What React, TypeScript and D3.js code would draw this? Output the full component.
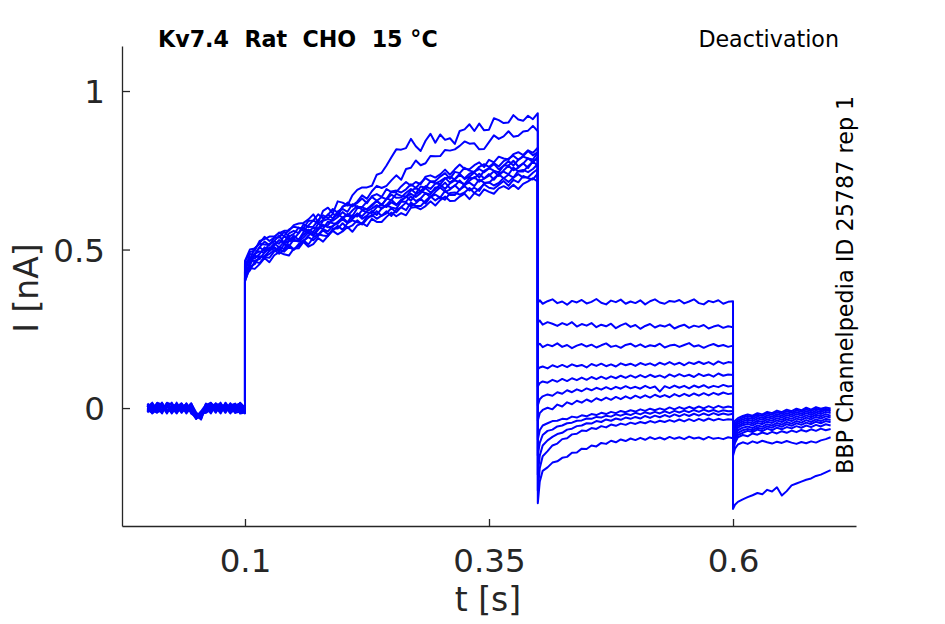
import React, { useRef, useEffect } from "react"
import * as d3 from "d3"

// Kv7.4 deactivation protocol, 12 sweeps, current in nA

const xTicks = [0.1, 0.35, 0.6]
const xTickLabels = ["0.1", "0.35", "0.6"]
const yTicks = [0, 0.5, 1]
const yTickLabels = ["0", "0.5", "1"]

// sample times of each protocol segment [s]
const baseT = d3.range(21).map(i => i * 0.005)
const actT = d3.range(61).map(i => 0.1 + i * 0.005)
const deactT = [0.4, 0.402, ...d3.range(1, 41).map(i => 0.4 + i * 0.005)]
const tailT = [0.6, 0.602, ...d3.range(1, 21).map(i => 0.6 + i * 0.005)]

// holding segment, 0 - 0.1 s
const baseline: number[][] = [
  [0.006, -0.013, 0.015, -0.007, 0.011, -0.015, 0.008, -0.003, 0.014, -0.018, -0.028, -0.010, 0.011, -0.014, 0.004, -0.017, 0.010, -0.006, 0.013, -0.014, -0.008],
  [-0.008, 0.014, -0.004, 0.017, -0.011, 0.007, -0.014, 0.013, -0.006, 0.008, -0.034, -0.021, -0.003, 0.015, -0.010, 0.007, -0.015, 0.014, -0.004, 0.008, 0.000],
  [0.011, -0.006, -0.015, 0.008, 0.003, 0.017, -0.010, 0.006, -0.017, 0.004, -0.022, -0.036, 0.007, -0.006, 0.014, -0.011, 0.003, -0.017, 0.008, 0.015, -0.003],
  [-0.014, 0.004, 0.010, -0.013, 0.015, -0.006, 0.013, -0.015, 0.007, -0.008, -0.031, -0.017, -0.013, 0.008, -0.015, 0.013, -0.007, 0.006, -0.013, 0.003, -0.011],
  [0.003, 0.017, -0.010, 0.006, -0.017, 0.010, 0.001, 0.015, -0.011, 0.014, -0.014, -0.029, 0.014, 0.001, 0.010, -0.006, 0.015, -0.011, 0.006, -0.008, 0.006],
  [-0.006, -0.015, 0.007, 0.014, -0.004, -0.011, 0.017, -0.008, 0.004, -0.013, -0.034, -0.013, -0.007, 0.011, -0.003, 0.017, -0.013, 0.008, 0.014, -0.017, -0.014],
  [0.014, 0.001, -0.013, -0.003, 0.008, 0.014, -0.007, 0.010, -0.014, 0.011, -0.018, -0.025, 0.004, -0.017, 0.013, 0.000, 0.006, -0.014, -0.006, 0.011, 0.004],
  [-0.011, 0.010, 0.003, -0.017, 0.014, 0.000, -0.015, 0.004, 0.011, -0.006, -0.028, -0.032, 0.013, 0.006, -0.013, 0.010, -0.004, 0.015, -0.010, -0.003, -0.017],
  [0.001, -0.007, 0.017, 0.011, -0.014, 0.006, 0.011, -0.013, 0.001, 0.015, -0.024, -0.015, -0.010, 0.014, 0.007, -0.014, 0.017, -0.003, 0.001, 0.014, -0.006],
  [0.008, -0.017, -0.003, 0.004, 0.006, -0.017, 0.004, 0.014, -0.008, -0.003, -0.033, -0.022, 0.001, -0.008, 0.015, 0.004, -0.010, 0.011, -0.015, -0.011, 0.008],
  [-0.003, 0.013, -0.011, -0.010, 0.017, 0.011, -0.004, -0.010, 0.015, -0.015, -0.017, -0.035, 0.008, 0.017, -0.006, -0.008, 0.013, -0.008, 0.010, 0.006, -0.015],
  [0.013, -0.003, 0.008, 0.015, -0.008, 0.003, -0.017, 0.008, -0.003, 0.006, -0.029, -0.018, -0.015, -0.004, 0.008, 0.014, -0.001, 0.004, -0.015, 0.017, 0.001],
]

// activating step, 0.1 - 0.4 s
const activation: number[][] = [
  [0.461, 0.492, 0.497, 0.527, 0.533, 0.541, 0.541, 0.552, 0.559, 0.559,
    0.577, 0.582, 0.584, 0.595, 0.611, 0.586, 0.622, 0.632, 0.614, 0.652,
    0.648, 0.639, 0.671, 0.688, 0.696, 0.696, 0.701, 0.736, 0.742, 0.765,
    0.791, 0.816, 0.815, 0.820, 0.849, 0.826, 0.811, 0.843, 0.865, 0.837,
    0.863, 0.846, 0.851, 0.833, 0.874, 0.879, 0.895, 0.874, 0.897, 0.876,
    0.878, 0.914, 0.908, 0.899, 0.901, 0.924, 0.910, 0.906, 0.922, 0.911, 0.930],
  [0.436, 0.486, 0.483, 0.508, 0.525, 0.514, 0.527, 0.544, 0.521, 0.551,
    0.559, 0.552, 0.580, 0.571, 0.572, 0.593, 0.608, 0.599, 0.612, 0.606,
    0.636, 0.640, 0.639, 0.651, 0.671, 0.660, 0.684, 0.701, 0.694, 0.701,
    0.718, 0.734, 0.720, 0.754, 0.758, 0.781, 0.766, 0.772, 0.795, 0.794,
    0.795, 0.814, 0.812, 0.816, 0.827, 0.841, 0.834, 0.835, 0.816, 0.817,
    0.839, 0.860, 0.849, 0.857, 0.873, 0.856, 0.859, 0.872, 0.875, 0.890, 0.873],
  [0.464, 0.500, 0.503, 0.520, 0.540, 0.527, 0.538, 0.554, 0.542, 0.563,
    0.572, 0.569, 0.568, 0.590, 0.592, 0.611, 0.598, 0.609, 0.628, 0.616,
    0.634, 0.648, 0.636, 0.647, 0.661, 0.646, 0.668, 0.675, 0.666, 0.691,
    0.681, 0.681, 0.699, 0.713, 0.701, 0.713, 0.706, 0.730, 0.734, 0.727,
    0.737, 0.752, 0.736, 0.753, 0.768, 0.754, 0.753, 0.766, 0.775, 0.760,
    0.783, 0.775, 0.793, 0.787, 0.784, 0.801, 0.807, 0.798, 0.813, 0.805, 0.821],
  [0.457, 0.469, 0.504, 0.518, 0.516, 0.514, 0.537, 0.538, 0.556, 0.541,
    0.549, 0.569, 0.559, 0.576, 0.592, 0.582, 0.594, 0.611, 0.598, 0.620,
    0.628, 0.619, 0.643, 0.634, 0.634, 0.651, 0.666, 0.654, 0.665, 0.659,
    0.683, 0.686, 0.680, 0.690, 0.706, 0.694, 0.711, 0.725, 0.715, 0.716,
    0.730, 0.741, 0.723, 0.745, 0.741, 0.758, 0.749, 0.745, 0.761, 0.769,
    0.761, 0.773, 0.762, 0.779, 0.787, 0.796, 0.783, 0.795, 0.811, 0.797, 0.807],
  [0.431, 0.474, 0.472, 0.486, 0.507, 0.496, 0.514, 0.530, 0.518, 0.529,
    0.543, 0.531, 0.555, 0.563, 0.555, 0.582, 0.574, 0.577, 0.596, 0.612,
    0.600, 0.612, 0.605, 0.630, 0.633, 0.627, 0.637, 0.654, 0.641, 0.659,
    0.673, 0.663, 0.664, 0.679, 0.691, 0.677, 0.699, 0.695, 0.715, 0.709,
    0.706, 0.724, 0.729, 0.721, 0.736, 0.725, 0.739, 0.746, 0.754, 0.744,
    0.756, 0.770, 0.753, 0.764, 0.779, 0.765, 0.783, 0.793, 0.787, 0.784, 0.806],
  [0.451, 0.464, 0.487, 0.507, 0.496, 0.518, 0.526, 0.518, 0.542, 0.533,
    0.533, 0.552, 0.569, 0.557, 0.569, 0.565, 0.591, 0.596, 0.591, 0.602,
    0.618, 0.606, 0.623, 0.637, 0.626, 0.627, 0.641, 0.654, 0.639, 0.661,
    0.656, 0.676, 0.669, 0.667, 0.686, 0.694, 0.685, 0.700, 0.691, 0.708,
    0.716, 0.726, 0.711, 0.723, 0.739, 0.722, 0.730, 0.743, 0.727, 0.748,
    0.757, 0.749, 0.743, 0.765, 0.765, 0.780, 0.762, 0.771, 0.788, 0.775, 0.792],
  [0.412, 0.461, 0.465, 0.470, 0.491, 0.507, 0.496, 0.508, 0.502, 0.526,
    0.529, 0.525, 0.538, 0.554, 0.543, 0.562, 0.578, 0.570, 0.573, 0.588,
    0.601, 0.586, 0.608, 0.604, 0.624, 0.617, 0.615, 0.634, 0.642, 0.634,
    0.649, 0.640, 0.657, 0.665, 0.676, 0.666, 0.678, 0.694, 0.680, 0.690,
    0.705, 0.691, 0.709, 0.718, 0.713, 0.706, 0.726, 0.725, 0.739, 0.724,
    0.733, 0.747, 0.732, 0.750, 0.764, 0.750, 0.758, 0.772, 0.757, 0.779, 0.786],
  [0.431, 0.449, 0.486, 0.494, 0.491, 0.502, 0.519, 0.507, 0.524, 0.538,
    0.527, 0.530, 0.547, 0.559, 0.545, 0.569, 0.566, 0.588, 0.583, 0.581,
    0.600, 0.608, 0.599, 0.614, 0.605, 0.621, 0.629, 0.640, 0.629, 0.641,
    0.657, 0.642, 0.652, 0.667, 0.654, 0.675, 0.684, 0.678, 0.674, 0.696,
    0.696, 0.711, 0.693, 0.701, 0.718, 0.702, 0.717, 0.729, 0.714, 0.724,
    0.738, 0.720, 0.739, 0.746, 0.737, 0.759, 0.746, 0.746, 0.763, 0.777, 0.765],
  [0.412, 0.454, 0.481, 0.475, 0.480, 0.495, 0.508, 0.494, 0.516, 0.511,
    0.531, 0.526, 0.526, 0.545, 0.554, 0.547, 0.564, 0.557, 0.575, 0.584,
    0.595, 0.584, 0.596, 0.612, 0.597, 0.607, 0.622, 0.609, 0.630, 0.639,
    0.633, 0.629, 0.651, 0.651, 0.668, 0.653, 0.661, 0.678, 0.665, 0.682,
    0.696, 0.682, 0.689, 0.703, 0.688, 0.706, 0.711, 0.700, 0.721, 0.711,
    0.711, 0.725, 0.737, 0.725, 0.736, 0.727, 0.748, 0.751, 0.744, 0.754, 0.770],
  [0.399, 0.446, 0.454, 0.479, 0.476, 0.474, 0.494, 0.502, 0.493, 0.508,
    0.499, 0.517, 0.528, 0.539, 0.529, 0.543, 0.561, 0.548, 0.560, 0.575,
    0.562, 0.583, 0.592, 0.586, 0.582, 0.604, 0.604, 0.621, 0.606, 0.614,
    0.631, 0.617, 0.634, 0.648, 0.636, 0.646, 0.660, 0.645, 0.666, 0.673,
    0.664, 0.685, 0.672, 0.672, 0.689, 0.700, 0.686, 0.695, 0.685, 0.709,
    0.712, 0.702, 0.710, 0.726, 0.713, 0.727, 0.738, 0.727, 0.728, 0.742, 0.754],
  [0.418, 0.434, 0.462, 0.457, 0.477, 0.486, 0.498, 0.487, 0.499, 0.515,
    0.500, 0.511, 0.529, 0.516, 0.538, 0.548, 0.544, 0.542, 0.566, 0.566,
    0.583, 0.568, 0.576, 0.592, 0.579, 0.596, 0.610, 0.597, 0.607, 0.621,
    0.606, 0.626, 0.633, 0.624, 0.648, 0.637, 0.637, 0.654, 0.668, 0.655,
    0.666, 0.657, 0.678, 0.680, 0.673, 0.680, 0.694, 0.678, 0.692, 0.706,
    0.695, 0.692, 0.704, 0.716, 0.701, 0.720, 0.712, 0.732, 0.725, 0.721, 0.740],
  [0.401, 0.442, 0.439, 0.454, 0.473, 0.460, 0.482, 0.492, 0.485, 0.481,
    0.503, 0.504, 0.524, 0.509, 0.517, 0.536, 0.525, 0.543, 0.559, 0.548,
    0.557, 0.571, 0.556, 0.576, 0.583, 0.574, 0.597, 0.587, 0.587, 0.603,
    0.617, 0.605, 0.615, 0.608, 0.632, 0.634, 0.627, 0.637, 0.652, 0.639,
    0.656, 0.667, 0.653, 0.654, 0.667, 0.676, 0.659, 0.678, 0.670, 0.690,
    0.682, 0.676, 0.693, 0.700, 0.691, 0.704, 0.691, 0.707, 0.715, 0.725, 0.714],
]

// deactivating step, 0.4 - 0.6 s
const deactivation: number[][] = [
  [0.332, 0.340, 0.329, 0.337, 0.343, 0.331, 0.336, 0.326, 0.338, 0.333,
    0.341, 0.330, 0.335, 0.344, 0.332, 0.327, 0.339, 0.334, 0.342, 0.329,
    0.336, 0.331, 0.340, 0.327, 0.337, 0.343, 0.333, 0.329, 0.338, 0.335,
    0.341, 0.330, 0.336, 0.343, 0.331, 0.327, 0.338, 0.334, 0.340, 0.329, 0.335, 0.337],
  [0.270, 0.276, 0.263, 0.271, 0.266, 0.259, 0.268, 0.262, 0.271, 0.257,
    0.265, 0.260, 0.268, 0.255, 0.263, 0.258, 0.266, 0.252, 0.261, 0.267,
    0.256, 0.262, 0.250, 0.259, 0.265, 0.254, 0.261, 0.257, 0.264, 0.251,
    0.258, 0.263, 0.253, 0.260, 0.256, 0.262, 0.251, 0.257, 0.261, 0.253, 0.258, 0.255],
  [0.198, 0.203, 0.192, 0.200, 0.195, 0.204, 0.193, 0.199, 0.189, 0.197,
    0.202, 0.194, 0.200, 0.191, 0.198, 0.204, 0.193, 0.197, 0.190, 0.199,
    0.203, 0.194, 0.201, 0.192, 0.198, 0.195, 0.203, 0.191, 0.197, 0.200,
    0.193, 0.199, 0.205, 0.194, 0.198, 0.190, 0.197, 0.202, 0.195, 0.199, 0.193, 0.197],
  [0.122, 0.128, 0.131, 0.125, 0.135, 0.129, 0.136, 0.129, 0.138, 0.132,
    0.136, 0.128, 0.139, 0.133, 0.140, 0.132, 0.138, 0.131, 0.141, 0.135,
    0.140, 0.133, 0.142, 0.136, 0.141, 0.134, 0.143, 0.137, 0.145, 0.137,
    0.143, 0.135, 0.144, 0.139, 0.146, 0.139, 0.145, 0.137, 0.147, 0.140, 0.145, 0.143],
  [0.068, 0.079, 0.084, 0.080, 0.089, 0.083, 0.092, 0.085, 0.094, 0.088,
    0.096, 0.089, 0.098, 0.091, 0.099, 0.092, 0.100, 0.094, 0.102, 0.095,
    0.103, 0.096, 0.104, 0.097, 0.105, 0.098, 0.103, 0.096, 0.106, 0.099,
    0.107, 0.100, 0.105, 0.098, 0.108, 0.101, 0.106, 0.099, 0.109, 0.102, 0.106, 0.104],
  [0.008, 0.028, 0.037, 0.043, 0.039, 0.050, 0.045, 0.056, 0.050, 0.059,
    0.053, 0.062, 0.056, 0.064, 0.058, 0.066, 0.059, 0.067, 0.061, 0.069,
    0.062, 0.067, 0.061, 0.070, 0.063, 0.068, 0.052, 0.069, 0.063, 0.071,
    0.064, 0.070, 0.062, 0.071, 0.065, 0.072, 0.064, 0.070, 0.066, 0.073, 0.068, 0.070],
  [-0.040, -0.016, -0.006, 0.001, -0.004, 0.011, 0.005, 0.018, 0.012, 0.023,
    0.017, 0.027, 0.020, 0.031, 0.024, 0.033, 0.026, 0.035, 0.028, 0.037,
    0.030, 0.039, 0.032, 0.040, 0.033, 0.042, 0.035, 0.041, 0.034, 0.044,
    0.037, 0.045, 0.038, 0.046, 0.039, 0.047, 0.040, 0.048, 0.042, 0.049, 0.044, 0.047],
  [-0.100, -0.070, -0.055, -0.048, -0.041, -0.040, -0.034, -0.035, -0.027, -0.030,
    -0.023, -0.026, -0.019, -0.022, -0.015, -0.019, -0.012, -0.016, -0.009, -0.013,
    -0.007, -0.011, -0.004, -0.009, -0.002, -0.007, -0.001, -0.006, 0.002, -0.004,
    0.003, -0.003, 0.004, -0.002, 0.005, -0.001, 0.006, 0.000, 0.007, 0.001, 0.005, 0.002],
  [-0.150, -0.110, -0.085, -0.072, -0.068, -0.058, -0.055, -0.048, -0.046, -0.040,
    -0.039, -0.033, -0.034, -0.028, -0.030, -0.024, -0.027, -0.020, -0.024, -0.018,
    -0.022, -0.015, -0.020, -0.013, -0.018, -0.012, -0.017, -0.010, -0.016, -0.009,
    -0.014, -0.008, -0.013, -0.006, -0.012, -0.005, -0.011, -0.006, -0.012, -0.007, -0.010, -0.009],
  [-0.210, -0.150, -0.118, -0.102, -0.091, -0.082, -0.078, -0.068, -0.065, -0.057,
    -0.055, -0.048, -0.049, -0.041, -0.044, -0.036, -0.040, -0.033, -0.037, -0.030,
    -0.034, -0.028, -0.033, -0.025, -0.031, -0.024, -0.029, -0.022, -0.028, -0.020,
    -0.026, -0.019, -0.025, -0.018, -0.024, -0.017, -0.023, -0.016, -0.022, -0.017, -0.021, -0.018],
  [-0.260, -0.190, -0.152, -0.136, -0.118, -0.112, -0.098, -0.095, -0.083, -0.081,
    -0.071, -0.072, -0.063, -0.066, -0.057, -0.061, -0.052, -0.056, -0.049, -0.053,
    -0.046, -0.050, -0.044, -0.048, -0.041, -0.046, -0.040, -0.044, -0.038, -0.043,
    -0.036, -0.042, -0.035, -0.041, -0.034, -0.040, -0.033, -0.039, -0.034, -0.038, -0.035, -0.037],
  [-0.300, -0.232, -0.198, -0.187, -0.172, -0.168, -0.157, -0.154, -0.141, -0.140,
    -0.128, -0.129, -0.118, -0.121, -0.110, -0.113, -0.103, -0.108, -0.099, -0.104,
    -0.096, -0.101, -0.094, -0.100, -0.092, -0.098, -0.093, -0.099, -0.091, -0.097,
    -0.092, -0.098, -0.090, -0.096, -0.093, -0.099, -0.091, -0.097, -0.094, -0.098, -0.092, -0.095],
]

// tail segment, 0.6 - 0.7 s
const tail: number[][] = [
  [-0.318, -0.305, -0.296, -0.288, -0.281, -0.275, -0.268, -0.272, -0.258, -0.263, -0.250, -0.276, -0.262, -0.244, -0.238, -0.232, -0.226, -0.222, -0.214, -0.210, -0.203, -0.196],
  [-0.150, -0.128, -0.115, -0.108, -0.113, -0.105, -0.110, -0.103, -0.108, -0.112, -0.106, -0.110, -0.104, -0.109, -0.113, -0.107, -0.111, -0.105, -0.109, -0.102, -0.098, -0.092],
  [-0.140, -0.110, -0.092, -0.085, -0.089, -0.080, -0.084, -0.077, -0.082, -0.075, -0.080, -0.073, -0.078, -0.071, -0.076, -0.069, -0.074, -0.067, -0.072, -0.065, -0.070, -0.066],
  [-0.130, -0.100, -0.085, -0.078, -0.072, -0.076, -0.068, -0.073, -0.065, -0.070, -0.062, -0.067, -0.060, -0.064, -0.057, -0.062, -0.055, -0.060, -0.053, -0.058, -0.051, -0.055],
  [-0.120, -0.092, -0.078, -0.070, -0.066, -0.070, -0.062, -0.066, -0.058, -0.062, -0.054, -0.059, -0.051, -0.056, -0.048, -0.053, -0.046, -0.051, -0.043, -0.048, -0.041, -0.045],
  [-0.110, -0.085, -0.070, -0.062, -0.058, -0.063, -0.055, -0.059, -0.051, -0.055, -0.047, -0.052, -0.044, -0.049, -0.041, -0.046, -0.038, -0.044, -0.036, -0.041, -0.034, -0.038],
  [-0.100, -0.078, -0.062, -0.054, -0.050, -0.055, -0.047, -0.051, -0.043, -0.047, -0.039, -0.044, -0.036, -0.041, -0.033, -0.038, -0.030, -0.036, -0.028, -0.033, -0.026, -0.030],
  [-0.090, -0.070, -0.056, -0.048, -0.044, -0.048, -0.040, -0.044, -0.036, -0.040, -0.032, -0.037, -0.029, -0.034, -0.026, -0.031, -0.023, -0.029, -0.021, -0.026, -0.019, -0.024],
  [-0.080, -0.062, -0.050, -0.042, -0.037, -0.041, -0.033, -0.037, -0.029, -0.033, -0.025, -0.030, -0.022, -0.027, -0.019, -0.024, -0.016, -0.022, -0.014, -0.019, -0.012, -0.016],
  [-0.070, -0.055, -0.044, -0.036, -0.031, -0.035, -0.027, -0.031, -0.023, -0.027, -0.019, -0.024, -0.016, -0.021, -0.013, -0.018, -0.010, -0.016, -0.008, -0.013, -0.006, -0.010],
  [-0.060, -0.048, -0.038, -0.030, -0.025, -0.029, -0.021, -0.025, -0.017, -0.021, -0.013, -0.018, -0.010, -0.015, -0.007, -0.012, -0.004, -0.010, -0.002, -0.007, -0.003, -0.005],
  [-0.050, -0.040, -0.032, -0.025, -0.020, -0.024, -0.016, -0.020, -0.012, -0.016, -0.008, -0.013, -0.005, -0.010, -0.002, -0.007, 0.001, -0.005, 0.003, -0.002, 0.002, -0.001],
]

const zip = (ts: number[], vs: number[]): [number, number][] =>
  vs.slice(0, ts.length).map((v, i) => [ts[i], v])

const sweeps = baseline.map((_, s) => [
  ...zip(baseT, baseline[s]),
  ...zip(actT, activation[s]),
  ...zip(deactT, deactivation[s]),
  ...zip(tailT, tail[s]),
])

const width = 945
const height = 624
const font = "DejaVu Sans, sans-serif"
const ink = "#262626"

const App: React.FC = () => {
  const svgRef = useRef<SVGSVGElement | null>(null)

  useEffect(() => {
    const svg = d3.select(svgRef.current)
    svg.selectAll("*").remove()

    const x = d3.scaleLinear().domain([-0.026, 0.726]).range([122, 856])
    const y = d3.scaleLinear().domain([-0.372, 1.142]).range([526, 46])

    // traces
    svg.append("clipPath").attr("id", "plot-area")
      .append("rect")
      .attr("x", 122).attr("y", 46)
      .attr("width", 734).attr("height", 480)

    const line = d3.line<[number, number]>()
      .x(d => x(d[0]))
      .y(d => y(d[1]))

    svg.append("g")
      .attr("clip-path", "url(#plot-area)")
      .selectAll("path")
      .data(sweeps)
      .enter()
      .append("path")
      .attr("d", d => line(d))
      .attr("fill", "none")
      .attr("stroke", "#0000ff")
      .attr("stroke-width", 2)
      .attr("stroke-linejoin", "round")

    // AXES
    const gx = svg.append("g")
      .attr("transform", `translate(0,${y.range()[0]})`)
      .call(d3.axisBottom(x)
        .tickValues(xTicks)
        .tickFormat((_d, i) => xTickLabels[i])
        .tickSizeInner(-7)
        .tickSizeOuter(0))

    const gy = svg.append("g")
      .attr("transform", `translate(${x.range()[0]},0)`)
      .call(d3.axisLeft(y)
        .tickValues(yTicks)
        .tickFormat((_d, i) => yTickLabels[i])
        .tickSizeInner(-8)
        .tickSizeOuter(0))

    for (const g of [gx, gy]) {
      g.attr("font-family", font).attr("font-size", 32.5)
      g.select(".domain").attr("stroke", ink).attr("stroke-width", 1.3)
      g.selectAll(".tick line").attr("stroke", ink).attr("stroke-width", 1.3)
      g.selectAll(".tick text").attr("fill", ink)
    }
    gx.selectAll(".tick text").attr("y", 46).attr("dy", null)
    gy.selectAll(".tick text").attr("x", -17).attr("dy", "0.36em")

    // labels
    svg.append("text")
      .attr("x", 488).attr("y", 611)
      .attr("text-anchor", "middle")
      .attr("font-family", font).attr("font-size", 33).attr("fill", ink)
      .text("t [s]")

    svg.append("text")
      .attr("transform", "translate(38,288) rotate(-90)")
      .attr("text-anchor", "middle")
      .attr("font-family", font).attr("font-size", 33).attr("fill", ink)
      .text("I [nA]")

    svg.append("text")
      .attr("x", 158).attr("y", 47)
      .attr("font-family", font).attr("font-size", 22.2).attr("font-weight", "bold")
      .attr("fill", "#000")
      .style("white-space", "pre")
      .text("Kv7.4  Rat  CHO  15 °C")

    svg.append("text")
      .attr("x", 839).attr("y", 47)
      .attr("text-anchor", "end")
      .attr("font-family", font).attr("font-size", 22.2)
      .attr("fill", "#000")
      .text("Deactivation")

    svg.append("text")
      .attr("transform", "translate(853,474) rotate(-90)")
      .attr("font-family", font).attr("font-size", 22.3)
      .attr("fill", "#000")
      .text("BBP Channelpedia ID 25787 rep 1")
  }, [])

  return (
    <svg
      ref={svgRef}
      width={width}
      height={height}
      style={{ position: "absolute", left: 0, top: 0, background: "#fff" }}
    />
  )
}

export default App
